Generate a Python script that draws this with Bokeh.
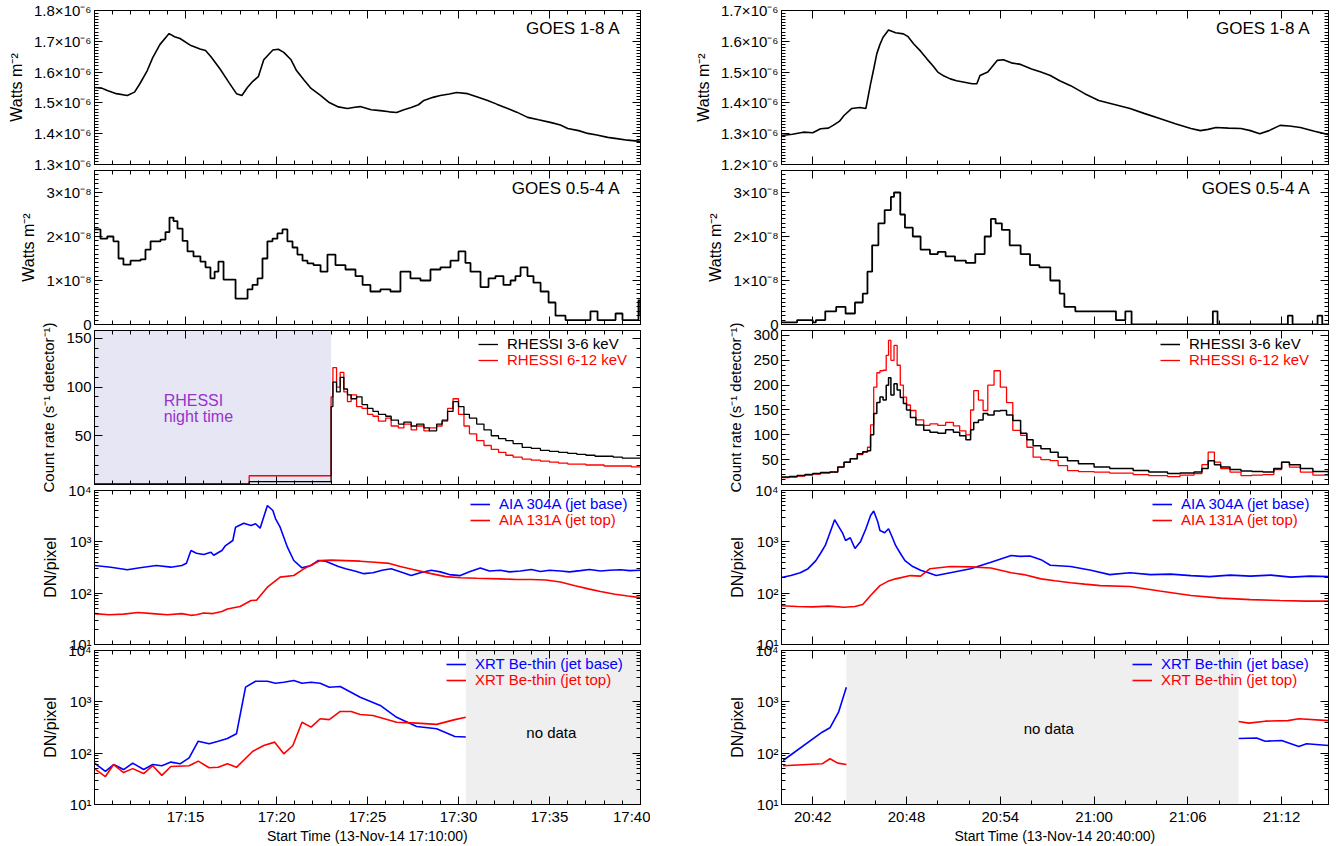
import numpy as np
from bokeh.plotting import figure
from bokeh.models import (Range1d, FixedTicker, CustomJSTickFormatter, LinearAxis,
                          BoxAnnotation, Label, Legend, LegendItem, CustomLabelingPolicy)
from bokeh.layouts import column, row
from bokeh.embed import file_html
from bokeh.resources import INLINE

FONT = "Liberation Sans"

# ------------------------------------------------------------------
# DATA  (times in minutes after window start: left 17:10:00, right 20:40:00)
# ------------------------------------------------------------------
# GOES 1-8 A, units 1e-6 W m^-2
L_T_GL = [0.0, 0.4, 0.7, 1.2, 1.8, 2.2, 2.5, 2.9, 3.2, 3.6, 4.1, 4.4, 4.7, 5.3, 5.8, 6.1, 6.4, 6.9,
          7.4, 7.8, 8.1, 8.4, 8.7, 9.0, 9.3, 9.8, 10.1, 10.4, 10.8, 11.1, 11.5, 11.9, 12.4, 12.9,
          13.4, 13.9, 14.3, 14.6, 15.2, 15.7, 16.2, 16.6, 17.0, 17.4, 17.8, 18.1, 18.6, 19.0, 19.5,
          19.9, 20.5, 21.0, 21.6, 22.1, 22.7, 23.2, 23.8, 24.4, 25.1, 25.6, 26.0, 26.6, 27.1, 27.6,
          28.2, 28.7, 29.3, 30.0]
L_GL = [1.550, 1.548, 1.540, 1.530, 1.524, 1.535, 1.563, 1.605, 1.647, 1.690, 1.725, 1.715, 1.709,
        1.686, 1.675, 1.670, 1.650, 1.610, 1.565, 1.530, 1.524, 1.550, 1.570, 1.585, 1.640, 1.672,
        1.674, 1.664, 1.640, 1.605, 1.575, 1.547, 1.525, 1.501, 1.487, 1.482, 1.486, 1.488, 1.478,
        1.475, 1.471, 1.469, 1.478, 1.485, 1.494, 1.508, 1.518, 1.524, 1.529, 1.534, 1.530, 1.520,
        1.508, 1.496, 1.482, 1.470, 1.453, 1.445, 1.436, 1.428, 1.417, 1.410, 1.401, 1.396, 1.388,
        1.384, 1.379, 1.375]

R_T_GL = [0, 0.7, 1.4, 2.0, 2.5, 3.0, 3.3, 3.7, 4.0, 4.5, 5.0, 5.4, 5.7, 5.9, 6.1, 6.3, 6.5, 6.85,
          7.3, 7.8, 8.1, 8.45, 8.9, 9.3, 9.7, 10.0, 10.4, 10.8, 11.2, 11.7, 12.2, 12.5, 12.7, 13.2,
          13.8, 14.2, 14.7, 15.3, 16.0, 16.6, 17.2, 17.8, 18.5, 19.4, 20.3, 21.3, 22.3, 23.2, 24.2,
          25.2, 26.2, 26.8, 27.3, 27.8, 28.6, 29.4, 30.0, 30.6, 31.2, 31.9, 32.5, 33.2, 34.1, 35.0]
R_GL = [1.294, 1.298, 1.305, 1.303, 1.316, 1.318, 1.327, 1.340, 1.359, 1.382, 1.385, 1.382, 1.462,
        1.510, 1.560, 1.590, 1.613, 1.637, 1.628, 1.624, 1.615, 1.592, 1.568, 1.543, 1.520, 1.500,
        1.487, 1.478, 1.472, 1.467, 1.462, 1.462, 1.489, 1.500, 1.538, 1.540, 1.530, 1.525, 1.510,
        1.500, 1.489, 1.472, 1.456, 1.430, 1.408, 1.395, 1.382, 1.366, 1.349, 1.332, 1.317, 1.310,
        1.314, 1.320, 1.318, 1.317, 1.310, 1.300, 1.310, 1.327, 1.325, 1.320, 1.308, 1.297]

# GOES 0.5-4 A, units 1e-8 W m^-2
L_T_GS = [0, 0.33, 0.7, 1.04, 1.32, 1.59, 1.98, 2.53, 2.8, 3.08, 3.63, 3.9, 4.12, 4.34, 4.56, 4.84,
          5.11, 5.44, 5.82, 6.1, 6.37, 6.6, 6.81, 7.09, 7.47, 7.75, 8.02, 8.41, 8.68, 8.96, 9.23,
          9.5, 9.78, 10.05, 10.33, 10.6, 10.88, 11.15, 11.43, 11.7, 12.03, 12.42, 12.8, 13.24,
          13.79, 14.34, 14.73, 15.16, 15.71, 16.26, 16.81, 17.36, 17.91, 18.46, 19.01, 19.56, 20.0,
          20.38, 20.66, 21.21, 21.65, 22.03, 22.47, 22.86, 23.13, 23.41, 23.79, 24.12, 24.51,
          24.95, 25.33, 25.88, 26.26, 26.7, 27.25, 27.64, 28.08, 28.63, 29.01, 29.56, 29.89, 30.0]
L_GS = [2.16, 1.95, 2.0, 1.89, 1.50, 1.36, 1.45, 1.48, 1.7, 1.89, 1.93, 2.1, 2.43, 2.35, 2.18, 1.9,
        1.66, 1.55, 1.43, 1.3, 1.05, 1.2, 1.43, 1.02, 1.02, 0.59, 0.59, 0.80, 0.9, 1.05, 1.5, 1.89,
        1.95, 2.07, 2.16, 1.89, 1.75, 1.59, 1.45, 1.39, 1.35, 1.20, 1.59, 1.35, 1.25, 1.1, 0.9,
        0.75, 0.8, 0.75, 1.2, 1.05, 1.0, 1.25, 1.3, 1.45, 1.66, 1.4, 1.2, 0.85, 1.05, 1.1, 0.9,
        1.0, 1.1, 1.3, 1.1, 0.95, 0.75, 0.5, 0.2, 0.1, 0.1, 0.1, 0.3, 0.1, 0.1, 0.25, 0.1, 0.1,
        0.55, 0.2]

R_T_GS = [0, 1.0, 2.0, 2.2, 2.8, 3.5, 4.1, 4.7, 5.2, 5.5, 5.8, 6.2, 6.6, 7.0, 7.2, 7.6, 7.9, 8.4,
          8.9, 9.5, 10.0, 10.5, 11.1, 11.8, 12.4, 13.0, 13.4, 13.7, 14.1, 14.6, 15.3, 15.9, 16.5,
          17.2, 17.8, 18.1, 18.8, 19.5, 20.1, 20.7, 21.4, 22.0, 22.4, 22.6, 27.6, 27.9, 28.1, 32.4,
          32.7, 32.9, 34.3, 34.6, 34.8, 35.0]
R_GS = [0.05, 0.1, 0.05, 0.1, 0.3, 0.4, 0.25, 0.5, 0.7, 1.2, 1.8, 2.3, 2.6, 2.9, 3.0, 2.5, 2.2, 2.0,
        1.7, 1.6, 1.65, 1.55, 1.45, 1.4, 1.6, 2.0, 2.4, 2.3, 2.15, 1.8, 1.6, 1.35, 1.3, 1.0, 0.7,
        0.4, 0.3, 0.3, 0.3, 0.3, 0.1, 0.3, 0.0, 0.0, 0.3, 0.0, 0.0, 0.2, 0.0, 0.0, 0.2, 0.0, 0.0,
        0.0]

# RHESSI count rates (s^-1 detector^-1)
L_T_RH = [0, 8.5, 13.0, 13.1, 13.3, 13.5, 13.7, 13.9, 14.1, 14.4, 14.7, 15.0, 15.3, 15.6, 16.0,
          16.3, 16.7, 17.0, 17.4, 17.7, 18.1, 18.4, 18.8, 19.1, 19.4, 19.7, 20.0, 20.3, 20.6, 21.0,
          21.4, 21.8, 22.2, 22.6, 23.0, 23.5, 24.0, 24.5, 25.0, 25.5, 26.0, 26.5, 27.0, 27.5, 28.0,
          28.5, 29.0, 29.5, 30.0]
L_RH_LO = [0, 3, 80, 105, 95, 110, 98, 92, 88, 90, 82, 78, 75, 72, 70, 66, 62, 64, 60, 62, 58, 55,
           62, 66, 75, 85, 80, 72, 68, 62, 56, 50, 47, 45, 42, 38, 37, 35, 34, 33, 32, 31, 30, 29,
           29, 28, 27, 27, 26]
L_RH_HI = [1, 9, 90, 120, 100, 115, 95, 85, 92, 80, 78, 72, 70, 65, 68, 60, 58, 62, 56, 60, 55, 58,
           60, 65, 78, 88, 72, 60, 52, 45, 40, 36, 33, 30, 28, 26, 25, 24, 23, 22, 21, 21, 20, 20,
           19, 19, 19, 18, 18]

R_T_RH = [0, 0.5, 1.0, 1.5, 2.0, 2.5, 3.1, 3.6, 4.0, 4.4, 4.85, 5.2, 5.5, 5.7, 5.9, 6.1, 6.3, 6.5,
          6.7, 6.85, 7.0, 7.2, 7.4, 7.6, 7.8, 8.0, 8.25, 8.6, 9.1, 9.5, 10.0, 10.5, 11.0, 11.4,
          11.8, 12.1, 12.3, 12.6, 12.9, 13.2, 13.6, 14.0, 14.4, 14.8, 15.3, 15.7, 16.1, 16.6, 17.2,
          17.7, 18.3, 19.0, 20.0, 21.0, 22.5, 23.5, 24.7, 25.5, 26.4, 26.9, 27.3, 27.7, 28.1, 28.7,
          29.4, 30.1, 30.8, 31.5, 32.0, 32.5, 33.2, 34.0, 35.0]
R_RH_LO = [15, 16, 18, 20, 22, 24, 25, 35, 45, 52, 62, 66, 68, 100, 143, 165, 176, 170, 200, 215,
           180, 203, 190, 175, 163, 150, 135, 120, 109, 105, 103, 110, 105, 98, 90, 110, 125, 130,
           143, 140, 148, 149, 140, 129, 103, 90, 78, 72, 65, 55, 48, 42, 35, 32, 28, 25, 22, 23,
           25, 32, 48, 40, 35, 30, 27, 26, 25, 32, 45, 40, 32, 26, 22]
R_RH_HI = [14, 15, 17, 19, 21, 23, 25, 35, 45, 52, 60, 65, 75, 120, 196, 225, 229, 230, 260, 290,
           250, 280, 240, 200, 176, 160, 149, 130, 119, 122, 119, 125, 118, 108, 100, 150, 189,
           170, 149, 200, 229, 196, 165, 109, 99, 75, 55, 50, 48, 38, 28, 26, 25, 23, 20, 18, 16,
           19, 22, 40, 65, 45, 32, 25, 18, 19, 20, 30, 45, 35, 25, 19, 15]

# AIA (DN/pixel)
L_T_304 = [0, 0.9, 1.8, 2.5, 3.4, 4.2, 4.8, 5.05, 5.3, 5.6, 6.0, 6.4, 6.55, 7.0, 7.2, 7.6, 7.75,
           8.2, 8.6, 8.85, 9.1, 9.5, 9.8, 9.95, 10.2, 10.6, 10.95, 11.4, 11.9, 12.3, 12.7, 13.0,
           13.4, 13.8, 14.3, 14.8, 15.3, 15.8, 16.3, 16.8, 17.4, 17.9, 18.5, 19.0, 19.5, 20.1, 20.6,
           21.2, 21.7, 22.3, 22.8, 23.4, 24.0, 24.5, 25.0, 25.6, 26.1, 26.7, 27.2, 27.8, 28.3, 28.9,
           29.4, 30.0]
L_304 = [346, 320, 285, 312, 346, 321, 346, 383, 678, 600, 566, 628, 547, 678, 847, 1062, 1928,
         2306, 2081, 2250, 1846, 5100, 4080, 2810, 1928, 787, 433, 312, 346, 433, 420, 380, 330,
         300, 270, 240, 250, 280, 300, 260, 220, 250, 280, 260, 230, 220, 260, 310, 270, 280, 260,
         270, 290, 265, 280, 270, 260, 275, 290, 270, 280, 285, 275, 280]
L_T_131 = [0, 0.8, 1.6, 2.4, 3.2, 4.0, 4.8, 5.3, 5.6, 6.0, 6.5, 7.0, 7.3, 8.0, 8.6, 8.9, 9.5, 10.2,
           10.95, 11.5, 12.4, 13.0, 13.8, 14.6, 15.4, 16.2, 16.8, 17.5, 18.5, 19.3, 20.1, 21.0,
           22.3, 23.2, 24.0, 24.8, 25.6, 26.4, 27.2, 27.8, 28.6, 29.3, 30.0]
L_131 = [40, 38, 39, 42, 40, 38, 40, 37, 38, 41, 40, 44, 49, 55, 72, 73, 131, 205, 221, 298, 433,
         440, 430, 420, 400, 380, 330, 290, 240, 210, 200, 195, 190, 185, 185, 180, 165, 140, 120,
         108, 95, 88, 82]

R_T_304 = [0, 0.6, 1.2, 1.7, 2.2, 2.5, 2.8, 3.1, 3.4, 3.65, 3.9, 4.1, 4.4, 4.7, 5.05, 5.4, 5.7,
           5.9, 6.15, 6.3, 6.6, 6.85, 7.1, 7.3, 7.6, 7.9, 8.4, 8.9, 9.4, 9.9, 10.8, 12.1, 13.4,
           14.7, 15.3, 15.9, 16.6, 17.2, 18.5, 19.8, 21.0, 22.3, 23.6, 24.9, 26.2, 27.4, 28.7,
           30.0, 31.3, 32.6, 33.8, 35.0]
R_304 = [202, 220, 250, 300, 430, 600, 850, 1500, 2700, 2000, 1500, 1060, 1200, 740, 1000, 1800,
         3250, 4000, 2500, 1660, 1500, 1800, 1200, 850, 600, 430, 330, 280, 250, 220, 250, 300,
         400, 540, 520, 530, 450, 350, 330, 280, 230, 250, 230, 235, 220, 210, 225, 215, 225, 205,
         215, 210]
R_T_131 = [0, 1.0, 2.0, 3.0, 4.0, 4.7, 5.2, 5.7, 6.3, 6.8, 7.3, 8.25, 8.9, 9.5, 10.8, 12.1, 13.4,
           14.7, 15.5, 16.6, 17.5, 18.5, 19.4, 20.4, 22.3, 24.2, 26.2, 28.1, 30.0, 31.9, 33.5, 35.0]
R_131 = [57, 55, 54, 56, 53, 55, 60, 90, 140, 170, 190, 220, 215, 300, 330, 325, 310, 250, 230,
         190, 175, 160, 150, 140, 135, 110, 90, 80, 75, 72, 70, 70]

# XRT Be-thin (DN/pixel)
L_T_XB = [0, 0.6, 1.05, 1.6, 2.1, 2.7, 3.2, 3.7, 4.2, 4.7, 5.2, 5.7, 6.3, 6.8, 7.3, 7.8, 8.3, 8.85,
          9.5, 9.95, 10.4, 10.95, 11.4, 11.9, 12.4, 12.9, 13.5, 14.6, 15.7, 16.6, 17.7, 18.8, 19.8,
          20.4]
L_XB = [64, 44, 60, 48, 64, 48, 60, 57, 67, 62, 81, 171, 153, 171, 193, 238, 1930, 2520, 2520,
        2300, 2400, 2600, 2300, 2400, 2300, 1930, 1990, 1230, 850, 500, 331, 300, 211, 206]
L_T_XT = [0, 0.6, 1.05, 1.6, 2.1, 2.7, 3.2, 3.7, 4.2, 5.2, 5.7, 6.3, 6.8, 7.3, 7.8, 8.7, 9.3, 9.9,
          10.4, 10.9, 11.4, 11.9, 12.4, 12.9, 13.5, 14.1, 14.6, 15.3, 16.6, 17.7, 18.8, 19.8, 20.4]
L_XT = [50, 35, 60, 42, 50, 40, 57, 37, 55, 57, 70, 52, 53, 62, 53, 109, 141, 164, 97, 141, 401,
        321, 468, 450, 649, 649, 567, 543, 401, 385, 364, 450, 500]

R_T_XB1 = [0.1, 2.6, 3.1, 3.65, 4.15]
R_XB1 = [72, 256, 312, 628, 1930]
R_T_XT1 = [0.1, 2.6, 3.1, 3.6, 4.15]
R_XT1 = [57, 62, 78, 64, 60]
R_T_XB2 = [29.25, 30.4, 30.95, 32.0, 33.1, 33.6, 35.0]
R_XB2 = [193, 197, 171, 177, 135, 153, 141]
R_T_XT2 = [29.25, 29.9, 30.95, 32.4, 33.1, 35.0]
R_XT2 = [414, 385, 420, 430, 468, 430]

# shaded intervals (minutes after window start)
L_NIGHT = (0.0, 13.0)
L_NODATA = (20.4, 30.0)
R_NODATA = (4.15, 29.25)

# ------------------------------------------------------------------
BLUE, RED, BLACK = "#0000ff", "#ff0000", "#000000"

NO_LABELS_CODE = """
try { indices.clear() } catch (e) {
  try { for (const i of Array.from(indices)) { indices.unset(i) } } catch (e2) {}
}
return indices
"""


def time_fmt(base):
    return CustomJSTickFormatter(args=dict(base=base), code="""
        const m = Math.round(base + tick);
        const h = Math.floor(m / 60);
        const mm = m % 60;
        return h + ':' + (mm < 10 ? '0' + mm : String(mm));
    """)


def fmt_e6():
    return CustomJSTickFormatter(code="return (tick*1e6).toFixed(1) + '×10⁻⁶';")


def fmt_e8():
    return CustomJSTickFormatter(code="""
        const v = Math.round(tick*1e8);
        return v === 0 ? '0' : v + '×10⁻⁸';
    """)


def fmt_log():
    return CustomJSTickFormatter(code="""
        const e = Math.round(Math.log10(tick));
        const s = ['⁰','¹','²','³','⁴','⁵'];
        return '10' + s[e];
    """)


def style(ax, show, ticker, fmt=None):
    ax.ticker = ticker
    if fmt is not None:
        ax.formatter = fmt
    ax.major_tick_in = 8
    ax.major_tick_out = 0
    ax.minor_tick_in = 4
    ax.minor_tick_out = 0
    ax.axis_line_color = "black"
    ax.major_tick_line_color = "black"
    ax.minor_tick_line_color = "black"
    ax.major_label_text_font = FONT
    ax.major_label_text_color = "black"
    ax.axis_label_text_font = FONT
    ax.axis_label_text_font_size = "16px"
    ax.axis_label_text_font_style = "normal"
    ax.axis_label_text_color = "black"
    if show:
        ax.major_label_text_font_size = "15px"
        ax.major_label_standoff = 3
    else:
        ax.major_label_text_font_size = "0px"
        ax.major_label_standoff = 0
        ax.major_label_policy = CustomLabelingPolicy(code=NO_LABELS_CODE)


def panel(col, r, yr, ylog, ymaj, ymin, yfmt, ylabel, ylabel_size="16px"):
    left = col == 0
    last = r == 4
    p = figure(width=650 if left else 680, height=206 if last else 174,
               x_range=Range1d(0, 30) if left else Range1d(0, 35),
               y_range=Range1d(*yr), y_axis_type="log" if ylog else "linear",
               output_backend="svg", toolbar_location=None,
               min_border_left=94 if left else 131, min_border_right=10 if left else 2,
               min_border_top=10, min_border_bottom=42 if last else 10)
    p.border_fill_color = None
    p.background_fill_color = None
    p.outline_line_color = "black"
    p.grid.visible = False
    if left:
        xt = FixedTicker(ticks=[5, 10, 15, 20, 25, 30], minor_ticks=list(range(0, 31)))
        xf = time_fmt(17 * 60 + 10)
        xl = "Start Time (13-Nov-14 17:10:00)"
    else:
        xt = FixedTicker(ticks=[2, 8, 14, 20, 26, 32], minor_ticks=list(range(0, 36, 2)))
        xf = time_fmt(20 * 60 + 40)
        xl = "Start Time (13-Nov-14 20:40:00)"
    yt = FixedTicker(ticks=ymaj, minor_ticks=ymin)
    style(p.xaxis[0], last, xt, xf)
    style(p.yaxis[0], True, yt, yfmt)
    p.yaxis[0].axis_label = ylabel
    p.yaxis[0].axis_label_standoff = 6
    p.yaxis[0].axis_label_text_font_size = ylabel_size
    if last:
        p.xaxis[0].axis_label = xl
        p.xaxis[0].axis_label_standoff = 0
        p.xaxis[0].axis_label_text_font_size = "14px"
    top = LinearAxis()
    style(top, False, xt)
    p.add_layout(top, "above")
    rt = LinearAxis()
    style(rt, False, yt)
    p.add_layout(rt, "right")
    return p


def legend(p, r1, r2, t1, t2, c1, c2, vx):
    for rend, txt, c, vy in [(r1, t1, c1, 132), (r2, t2, c2, 116)]:
        lg = Legend(items=[LegendItem(label=txt, renderers=[rend])], location=(vx, vy),
                    label_text_color=c, label_text_font=FONT, label_text_font_size="15px",
                    glyph_width=20, glyph_height=16, label_height=16, label_standoff=9,
                    padding=0, margin=0, spacing=0, border_line_alpha=0,
                    background_fill_alpha=0)
        p.add_layout(lg)


def goes_label(p, xmax, ymax, text, xoff):
    p.add_layout(Label(x=xmax, y=ymax, x_offset=xoff, y_offset=-8, text=text,
                       text_align="right", text_baseline="top", text_font=FONT,
                       text_font_size="17px", text_color="black"))


E6 = 1e-6
E8 = 1e-8
LOGMAJ = [10, 100, 1000, 10000]
LOGMIN = [k * 10 ** d for d in range(1, 4) for k in range(2, 10)]

figs = []
for col in (0, 1):
    left = col == 0
    xmax = 30 if left else 35
    xoff = -20 if left else -18
    lo = 1.3 if left else 1.2
    # row 1: GOES long
    p1 = panel(col, 0, (lo * E6, (lo + 0.5) * E6), False,
               [round(lo + 0.1 * i, 1) * E6 for i in range(6)],
               [round(lo + 0.01 * i, 2) * E6 for i in range(51)], fmt_e6(), "Watts m⁻²")
    tx, vy = (L_T_GL, L_GL) if left else (R_T_GL, R_GL)
    p1.line(tx, np.array(vy) * E6, color=BLACK, line_width=1.6)
    goes_label(p1, xmax, (lo + 0.5) * E6, "GOES 1-8 A", xoff)

    # row 2: GOES short
    p2 = panel(col, 1, (0, 3.5 * E8), False, [0, E8, 2 * E8, 3 * E8],
               [i * 0.1 * E8 for i in range(36)], fmt_e8(), "Watts m⁻²")
    tx, vy = (L_T_GS, L_GS) if left else (R_T_GS, R_GS)
    p2.step(tx, np.array(vy) * E8, mode="after", color=BLACK, line_width=1.8)
    goes_label(p2, xmax, 3.5 * E8, "GOES 0.5-4 A", xoff)

    # row 3: RHESSI
    if left:
        p3 = panel(col, 2, (0, 158), False, [50, 100, 150], list(range(10, 158, 10)), None,
                   "Count rate (s⁻¹ detector⁻¹)", "15px")
        p3.add_layout(BoxAnnotation(left=L_NIGHT[0], right=L_NIGHT[1], fill_color="#e6e6f5",
                                    fill_alpha=1, line_alpha=0, level="underlay"))
        hi = p3.step(L_T_RH, L_RH_HI, mode="after", color=RED, line_width=1.3)
        lo_r = p3.step(L_T_RH, L_RH_LO, mode="after", color=BLACK, line_width=1.3)
        for txt, yv in (("RHESSI", 86), ("night time", 70)):
            p3.add_layout(Label(x=3.8, y=yv, text=txt, text_align="left",
                                text_baseline="middle", text_font=FONT,
                                text_font_size="16px", text_color="#9932cc"))
        legend(p3, lo_r, hi, "RHESSI 3-6 keV", "RHESSI 6-12 keV", BLACK, RED, 384)
    else:
        p3 = panel(col, 2, (0, 310), False, [50, 100, 150, 200, 250, 300],
                   list(range(10, 310, 10)), None, "Count rate (s⁻¹ detector⁻¹)", "15px")
        hi = p3.step(R_T_RH, R_RH_HI, mode="after", color=RED, line_width=1.3)
        lo_r = p3.step(R_T_RH, R_RH_LO, mode="after", color=BLACK, line_width=1.5)
        legend(p3, lo_r, hi, "RHESSI 3-6 keV", "RHESSI 6-12 keV", BLACK, RED, 379)

    # row 4: AIA
    p4 = panel(col, 3, (10, 1e4), True, LOGMAJ, LOGMIN, fmt_log(), "DN/pixel")
    if left:
        b = p4.line(L_T_304, L_304, color=BLUE, line_width=1.6)
        rr = p4.line(L_T_131, L_131, color=RED, line_width=1.6)
        vx = 376
    else:
        b = p4.line(R_T_304, R_304, color=BLUE, line_width=1.6)
        rr = p4.line(R_T_131, R_131, color=RED, line_width=1.6)
        vx = 371
    legend(p4, b, rr, "AIA 304A (jet base)", "AIA 131A (jet top)", BLUE, RED, vx)

    # row 5: XRT
    p5 = panel(col, 4, (10, 1e4), True, LOGMAJ, LOGMIN, fmt_log(), "DN/pixel")
    if left:
        p5.add_layout(BoxAnnotation(left=L_NODATA[0], right=L_NODATA[1], fill_color="#efefef",
                                    fill_alpha=1, line_alpha=0, level="underlay"))
        b = p5.line(L_T_XB, L_XB, color=BLUE, line_width=1.6)
        rr = p5.line(L_T_XT, L_XT, color=RED, line_width=1.6)
        p5.add_layout(Label(x=25.1, y=252, text="no data", text_align="center",
                            text_baseline="middle", text_font=FONT, text_font_size="15px",
                            text_color="black"))
        vx = 352
    else:
        p5.add_layout(BoxAnnotation(left=R_NODATA[0], right=R_NODATA[1], fill_color="#efefef",
                                    fill_alpha=1, line_alpha=0, level="underlay"))
        b = p5.line(R_T_XB1, R_XB1, color=BLUE, line_width=1.6)
        rr = p5.line(R_T_XT1, R_XT1, color=RED, line_width=1.6)
        p5.line(R_T_XB2, R_XB2, color=BLUE, line_width=1.6)
        p5.line(R_T_XT2, R_XT2, color=RED, line_width=1.6)
        p5.add_layout(Label(x=17.1, y=300, text="no data", text_align="center",
                            text_baseline="middle", text_font=FONT, text_font_size="15px",
                            text_color="black"))
        vx = 351
    legend(p5, b, rr, "XRT Be-thin (jet base)", "XRT Be-thin (jet top)", BLUE, RED, vx)

    figs.append([p1, p2, p3, p4, p5])

rows = []
for r in range(5):
    m = (0, 0, -14, 0) if r < 4 else (0, 0, 0, 0)
    rows.append(row(figs[0][r], figs[1][r], margin=m))

layout = column(*rows)

with open("out.html", "w", encoding="utf-8") as f:
    f.write(file_html(layout, INLINE))
